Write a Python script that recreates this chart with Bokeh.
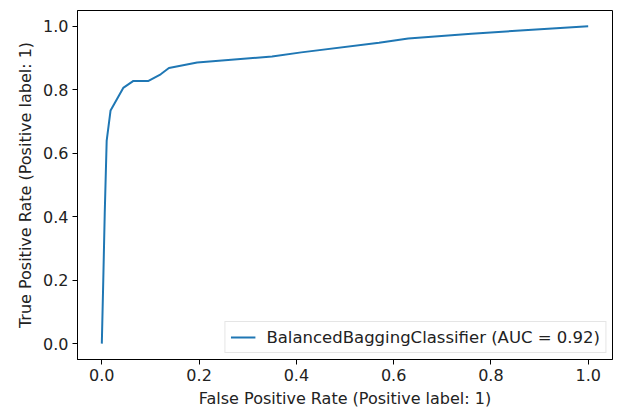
from bokeh.plotting import figure
from bokeh.models import FixedTicker, Legend, LegendItem, Range1d, CustomJSTickFormatter
from bokeh.embed import file_html
from bokeh.resources import INLINE

fpr = [0.0, 0.003, 0.006, 0.010, 0.018, 0.044, 0.065, 0.096, 0.121, 0.138,
       0.196, 0.350, 0.410, 0.570, 0.630, 0.760, 0.860, 1.0]
tpr = [0.0, 0.20, 0.41, 0.64, 0.735, 0.806, 0.828, 0.828, 0.849, 0.869,
       0.886, 0.905, 0.918, 0.948, 0.962, 0.977, 0.987, 1.0]
ticks = [0.0, 0.2, 0.4, 0.6, 0.8, 1.0]
label = "BalancedBaggingClassifier (AUC = 0.92)"
xlabel = "False Positive Rate (Positive label: 1)"
ylabel = "True Positive Rate (Positive label: 1)"

FONT = "DejaVu Sans"

p = figure(frame_width=535, frame_height=349, output_backend="svg",
           toolbar_location=None, min_border_left=77, min_border_right=5,
           min_border_top=10, min_border_bottom=53,
           x_range=Range1d(-0.05, 1.05), y_range=Range1d(-0.05, 1.05))
p.background_fill_color = "white"
p.border_fill_color = "white"
p.outline_line_color = "black"
p.outline_line_width = 1
p.xgrid.visible = False
p.ygrid.visible = False

r = p.line(fpr, tpr, line_color="#1f77b4", line_width=2)

fmt = CustomJSTickFormatter(code="return tick.toFixed(1);")
for ax, lab in ((p.xaxis[0], xlabel), (p.yaxis[0], ylabel)):
    ax.ticker = FixedTicker(ticks=ticks)
    ax.formatter = fmt
    ax.axis_label = lab
    ax.axis_label_text_font = FONT
    ax.axis_label_text_font_size = "16px"
    ax.axis_label_text_font_style = "normal"
    ax.axis_label_text_color = "#222222"
    ax.major_label_text_font = FONT
    ax.major_label_text_font_size = "16px"
    ax.major_label_text_color = "#222222"
    ax.major_tick_in = 0
    ax.major_tick_out = 5
    ax.minor_tick_in = 0
    ax.minor_tick_out = 0
    ax.axis_line_color = "black"
    ax.major_tick_line_color = "black"
    ax.major_label_standoff = 4
    ax.axis_label_standoff = 5

legend = Legend(items=[LegendItem(label=label, renderers=[r])],
                location="bottom_right")
legend.label_text_font = FONT
legend.label_text_font_size = "16.5px"
legend.label_text_color = "#222222"
legend.border_line_color = "#cccccc"
legend.border_line_width = 1
legend.glyph_width = 25
legend.padding = 5
legend.margin = 6
legend.label_standoff = 11
legend.spacing = 0
p.add_layout(legend)

open("out.html", "w").write(file_html(p, INLINE))
